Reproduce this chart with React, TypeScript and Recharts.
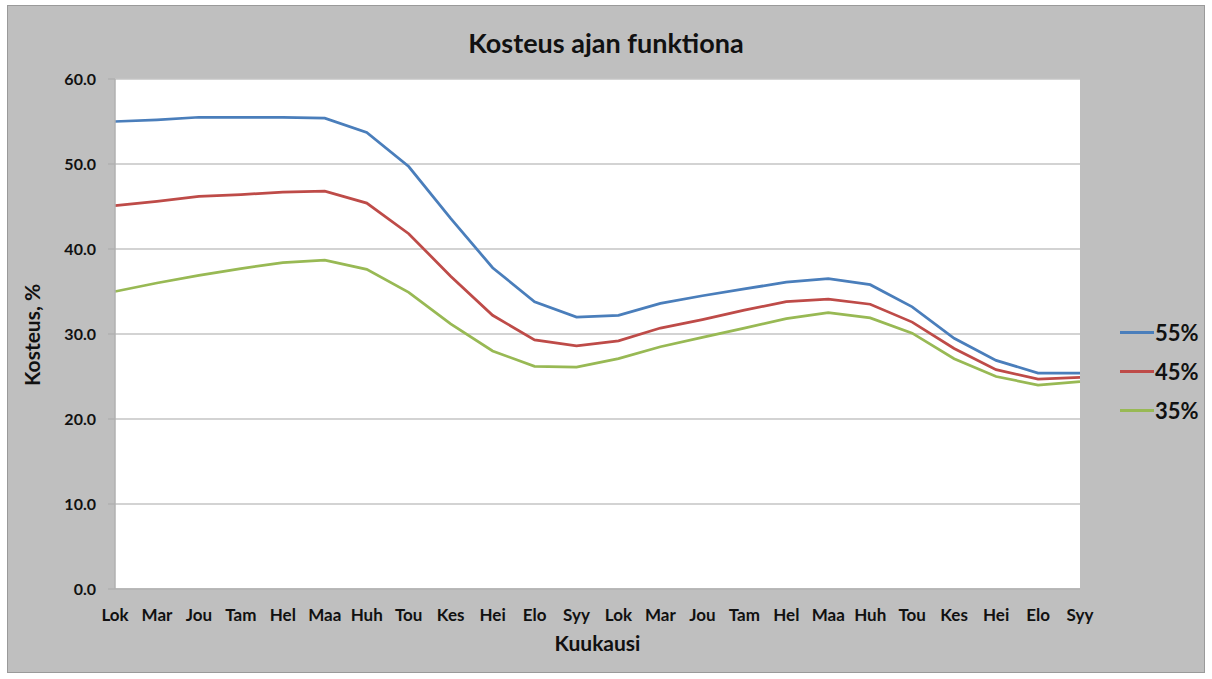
import { CartesianGrid, Line, LineChart, XAxis, YAxis } from "recharts"

// months from Lok (October) through Syy (September), two years
const months = [
  "Lok", "Mar", "Jou", "Tam", "Hel", "Maa", "Huh", "Tou", "Kes", "Hei", "Elo", "Syy",
  "Lok", "Mar", "Jou", "Tam", "Hel", "Maa", "Huh", "Tou", "Kes", "Hei", "Elo", "Syy",
]

const moisture55 = [
  55.0, 55.2, 55.5, 55.5, 55.5, 55.4, 53.7, 49.7, 43.6, 37.8, 33.8, 32.0,
  32.2, 33.6, 34.5, 35.3, 36.1, 36.5, 35.8, 33.2, 29.5, 26.9, 25.4, 25.4,
]
const moisture45 = [
  45.1, 45.6, 46.2, 46.4, 46.7, 46.8, 45.4, 41.8, 36.8, 32.2, 29.3, 28.6,
  29.2, 30.7, 31.7, 32.8, 33.8, 34.1, 33.5, 31.4, 28.3, 25.8, 24.7, 24.9,
]
const moisture35 = [
  35.0, 36.0, 36.9, 37.7, 38.4, 38.7, 37.6, 34.9, 31.2, 28.0, 26.2, 26.1,
  27.1, 28.5, 29.6, 30.7, 31.8, 32.5, 31.9, 30.1, 27.1, 25.0, 24.0, 24.4,
]

const yTicks = [0, 10, 20, 30, 40, 50, 60]

const series = [
  { key: "m55", name: "55%", color: "#4a7ebb" },
  { key: "m45", name: "45%", color: "#be4b48" },
  { key: "m35", name: "35%", color: "#98b954" },
]

const font = "Lato, 'Open Sans', sans-serif"

function LegendBox() {
  return (
    <div style={{ position: "absolute", left: 1120, top: 313, fontFamily: font }}>
      {series.map((s) => (
        <div key={s.key} style={{ display: "flex", alignItems: "center", height: 39 }}>
          <div style={{ width: 34, height: 3, background: s.color }} />
          <span style={{ fontSize: 22, fontWeight: 700, color: "#111", marginLeft: 1 }}>{s.name}</span>
        </div>
      ))}
    </div>
  )
}

export default function App() {
  const data = months.map((m, i) => ({
    idx: i,
    month: m,
    m55: moisture55[i],
    m45: moisture45[i],
    m35: moisture35[i],
  }))

  return (
    <div style={{ position: "absolute", left: 0, top: 0, width: 1212, height: 679, background: "#fff" }}>
      <div
        style={{
          position: "absolute",
          left: 7,
          top: 5,
          width: 1196,
          height: 666,
          background: "#bfbfbf",
          border: "1px solid #9a9a9a",
        }}
      />
      <div
        style={{
          position: "absolute",
          left: 0,
          top: 26,
          width: 1212,
          textAlign: "center",
          fontFamily: font,
          fontWeight: 700,
          fontSize: 27,
          color: "#111",
        }}
      >
        Kosteus ajan funktiona
      </div>
      <div style={{ position: "absolute", left: 0, top: 0 }}>
        <LineChart width={1212} height={679} data={data} margin={{ top: 79, right: 132, bottom: 58, left: 55 }}>
          <CartesianGrid vertical={false} stroke="#c4c4c4" strokeWidth={1.5} fill="#fff" />
          <XAxis
            dataKey="idx"
            type="category"
            tickFormatter={(i: number) => months[i]}
            interval={0}
            tickLine={false}
            axisLine={{ stroke: "#b0b0b0", strokeWidth: 1.5 }}
            tickMargin={20}
            tickSize={0}
            height={32}
            tick={{ fill: "#111", fontSize: 17, fontWeight: 700, fontFamily: font }}
            label={{
              value: "Kuukausi",
              position: "insideBottom",
              offset: -30,
              fill: "#111",
              fontSize: 21,
              fontWeight: 700,
              fontFamily: font,
            }}
          />
          <YAxis
            domain={[0, 60]}
            ticks={yTicks}
            width={60}
            tickFormatter={(v: number) => v.toFixed(1)}
            tickSize={7}
            tickMargin={12}
            tickLine={{ stroke: "#b0b0b0", strokeWidth: 1.5 }}
            axisLine={{ stroke: "#b0b0b0", strokeWidth: 1.5 }}
            tick={{ fill: "#111", fontSize: 16, fontWeight: 700, fontFamily: font }}
            label={{
              value: "Kosteus, %",
              angle: -90,
              position: "insideLeft",
              offset: -22,
              dy: 52,
              fill: "#111",
              fontSize: 21,
              fontWeight: 700,
              fontFamily: font,
            }}
          />
          <YAxis
            yAxisId="edge"
            orientation="right"
            domain={[0, 60]}
            width={0}
            tick={false}
            tickLine={false}
            axisLine={{ stroke: "#d0d0d0", strokeWidth: 1.5 }}
          />
          {series.map((s) => (
            <Line
              key={s.key}
              type="linear"
              dataKey={s.key}
              name={s.name}
              stroke={s.color}
              strokeWidth={2.75}
              dot={false}
              activeDot={false}
              isAnimationActive={false}
            />
          ))}
        </LineChart>
      </div>
      <LegendBox />
    </div>
  )
}
